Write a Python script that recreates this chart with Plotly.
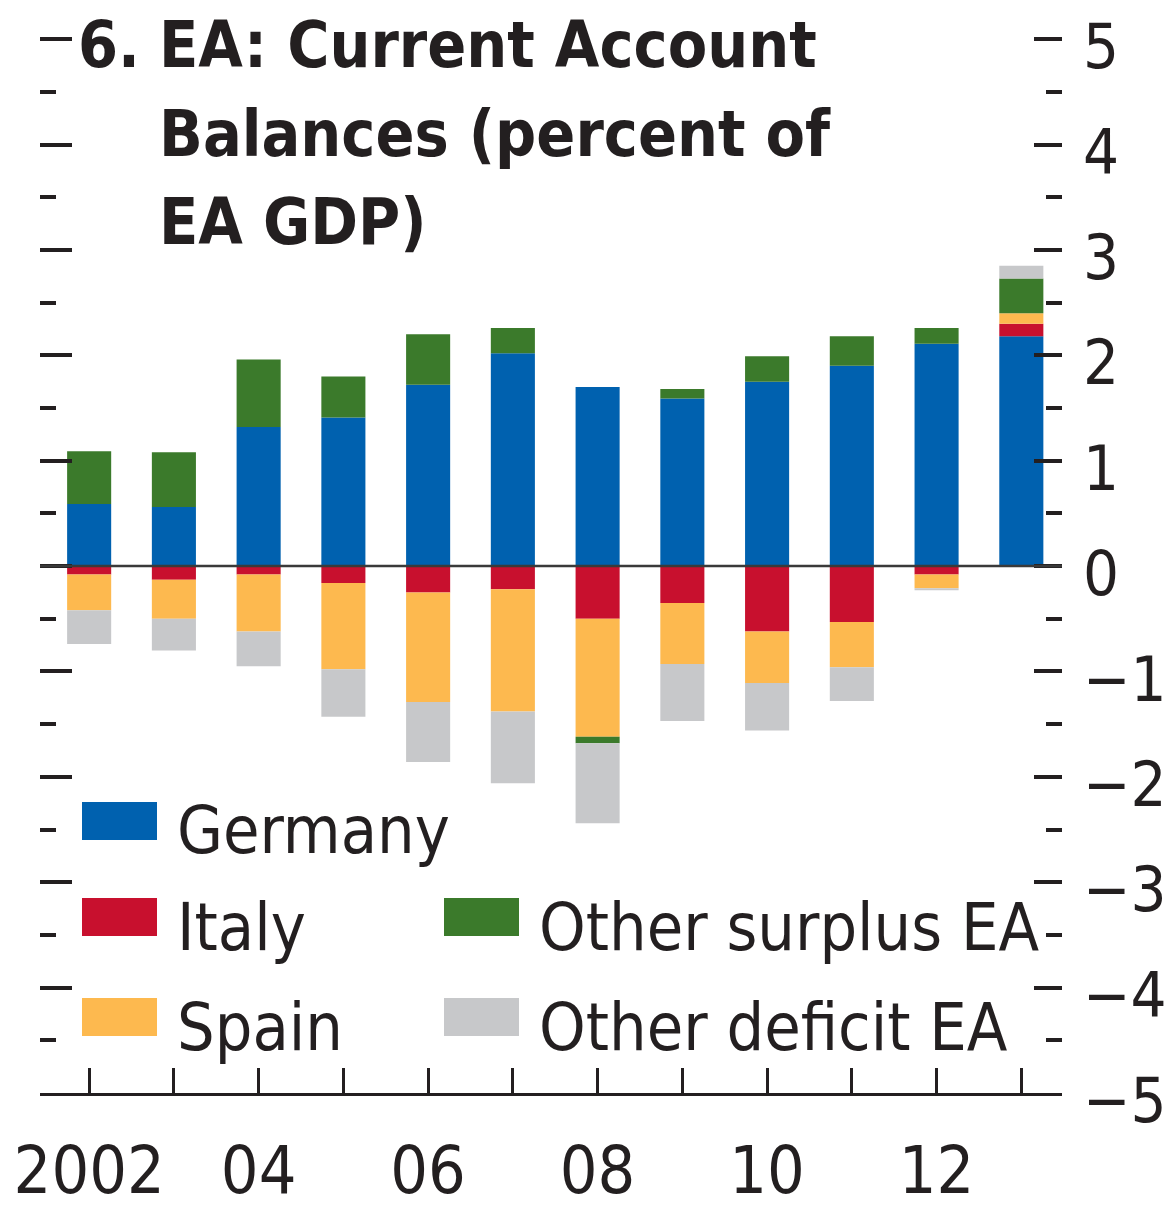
import plotly.graph_objects as go

years = [2002, 2003, 2004, 2005, 2006, 2007, 2008, 2009, 2010, 2011, 2012, 2013]
year_labels = ["2002", "", "04", "", "06", "", "08", "", "10", "", "12", ""]

germany = [0.59, 0.56, 1.32, 1.41, 1.72, 2.02, 1.70, 1.59, 1.75, 1.90, 2.11, 2.18]
italy = [-0.08, -0.13, -0.08, -0.16, -0.25, -0.22, -0.50, -0.35, -0.62, -0.53, -0.08, 0.12]
spain = [-0.34, -0.37, -0.54, -0.82, -1.04, -1.16, -1.12, -0.58, -0.49, -0.43, -0.13, 0.10]
other_surplus = [0.50, 0.52, 0.64, 0.39, 0.48, 0.24, -0.06, 0.09, 0.24, 0.28, 0.15, 0.33]
other_deficit = [-0.32, -0.30, -0.33, -0.45, -0.57, -0.68, -0.76, -0.54, -0.45, -0.32, -0.02, 0.12]

series_names = ["Germany", "Italy", "Spain", "Other surplus EA", "Other deficit EA"]
series_values = [germany, italy, spain, other_surplus, other_deficit]
series_colors = ["#0061AF", "#C8102E", "#FDB94F", "#3B7A2B", "#C7C8CA"]

y_tickvals = [-5, -4, -3, -2, -1, 0, 1, 2, 3, 4, 5]
y_ticktext = ["\u22125", "\u22124", "\u22123", "\u22122", "\u22121", "0", "1", "2", "3", "4", "5"]

FONT = "DejaVu Sans Condensed, Liberation Sans Narrow, Arial Narrow, Roboto, sans-serif"
INK = "#231F20"

# page has an 8px body margin; size figure to fit the viewport
OFF = 8
W, H = 1164, 1198
ML, MR, MT, MB = 32, 110, 28, 113
PW, PH = W - ML - MR, H - MT - MB


def px(xp):
    return (xp - OFF - ML) / PW


def py(yp):
    return (H - MB - (yp - OFF)) / PH


fig = go.Figure()
for name, vals, col in zip(series_names, series_values, series_colors):
    fig.add_trace(go.Bar(
        x=years, y=vals, name=name, width=0.52,
        marker=dict(color=col, line=dict(width=0)),
        showlegend=False,
    ))

# invisible trace to anchor left tick axis
fig.add_trace(go.Scatter(x=[years[0]], y=[0], yaxis="y2", mode="markers",
                         marker=dict(opacity=0), showlegend=False, hoverinfo="skip"))

Y_RANGE = [-5, 5.03]

fig.update_layout(
    width=W, height=H,
    margin=dict(l=ML, r=MR, t=MT, b=MB, autoexpand=False),
    paper_bgcolor="white", plot_bgcolor="white",
    barmode="relative",
    font=dict(family=FONT, color=INK),
    xaxis=dict(
        range=[2001.42, 2013.48], tickvals=years, ticktext=year_labels,
        ticks="inside", ticklen=25, tickwidth=3, tickcolor=INK,
        showline=True, linecolor=INK, linewidth=3,
        showgrid=False, zeroline=False, automargin=False,
        tickfont=dict(size=66, family=FONT, color=INK),
        ticklabelstandoff=18, ticklabeloverflow="allow",
    ),
    yaxis=dict(
        range=Y_RANGE, side="right", tickvals=y_tickvals, ticktext=y_ticktext,
        ticks="inside", ticklen=28, tickwidth=4, tickcolor=INK,
        minor=dict(dtick=0.5, tick0=0, ticks="inside", ticklen=16, tickwidth=4, tickcolor=INK),
        showline=False, showgrid=False, zeroline=False, automargin=False,
        tickfont=dict(size=63, family=FONT, color=INK),
        ticklabelstandoff=20, ticklabelshift=7, ticklabeloverflow="allow",
    ),
    yaxis2=dict(
        range=Y_RANGE, side="left", overlaying="y", tickvals=y_tickvals,
        ticks="inside", ticklen=32, tickwidth=4, tickcolor=INK,
        minor=dict(dtick=0.5, tick0=0, ticks="inside", ticklen=16, tickwidth=4, tickcolor=INK),
        showticklabels=False, showline=False, showgrid=False, zeroline=False,
        automargin=False,
    ),
)

# zero line above bars
fig.add_shape(type="line", xref="paper", yref="y", x0=0, x1=1, y0=0, y1=0,
              line=dict(color="#3a3a3a", width=2.5), layer="above")

# title
title_font = dict(family=FONT, size=64, color=INK, weight="bold")
fig.add_annotation(text="6.", xref="paper", yref="paper", x=px(76), y=py(45),
                   xanchor="left", yanchor="middle", showarrow=False, font=title_font)
for txt, yc in [("EA: Current Account", 45), ("Balances (percent of", 134), ("EA GDP)", 222)]:
    fig.add_annotation(text=txt, xref="paper", yref="paper", x=px(157), y=py(yc),
                       xanchor="left", yanchor="middle", showarrow=False, font=title_font)

# manual legend
legend_font = dict(family=FONT, size=66, color=INK)
legend_pos = [
    (82, 821, "Germany", 0),
    (82, 917, "Italy", 1),
    (82, 1017, "Spain", 2),
    (444, 917, "Other surplus EA", 3),
    (444, 1017, "Other deficit EA", 4),
]
for xs, yc, label, idx in legend_pos:
    fig.add_shape(type="rect", xref="paper", yref="paper",
                  x0=px(xs), x1=px(xs + 75), y0=py(yc + 19), y1=py(yc - 19),
                  fillcolor=series_colors[idx], line=dict(width=0), layer="above")
    fig.add_annotation(text=label, xref="paper", yref="paper", x=px(xs + 93), y=py(yc + 10),
                       xanchor="left", yanchor="middle", showarrow=False, font=legend_font)

fig.write_html("out.html")
